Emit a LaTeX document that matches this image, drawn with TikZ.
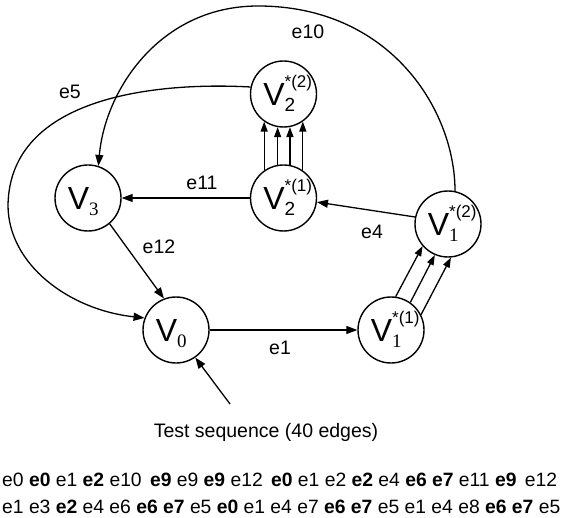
\documentclass[tikz,border=0pt]{standalone}
\usepackage{fontspec}
\setmainfont{Liberation Sans}
\newfontfamily\serifdig{Liberation Serif}
\usetikzlibrary{arrows.meta}
\newcommand\subserif[1]{{\serifdig\fontsize{19}{19}\selectfont #1}}
\newcommand\subsans[1]{{\fontsize{19}{19}\selectfont #1}}
\newcommand\Vnode[2]{{\fontsize{32}{32}\selectfont V}\rlap{\smash{\raisebox{-6.5pt}{#1}}}\rlap{\smash{\raisebox{17.5pt}{\fontsize{17}{17}\selectfont #2}}}\kern19pt}
\newcommand\gap{\hspace{3pt}}
\tikzset{
  st/.style={circle, draw, line width=1.4pt, minimum size=66pt, inner sep=0pt},
  arr/.style={line width=1.3pt, -{Triangle[length=11pt,width=8pt]}},
  parr/.style={line width=1.3pt, -{Triangle[length=10pt,width=7pt]}},
  lbl/.style={font=\fontsize{19.5}{22}\selectfont, inner sep=0pt},
  seq/.style={font=\fontsize{19.3}{22}\selectfont, inner sep=0pt, anchor=base west},
}
\begin{document}
\begin{tikzpicture}[x=1pt,y=-1pt]
\useasboundingbox (0,0) rectangle (564,518);
\node[st] (V22) at (283.5,94) {\Vnode{\subsans{2}}{*(2)}};
\node[st] (V21) at (283.5,198) {\Vnode{\subsans{2}}{*(1)}};
\node[st] (V3) at (88,198) {\Vnode{\subserif{3}}{}};
\node[st] (V0) at (176,330) {\Vnode{\subserif{0}}{}};
\node[st] (V11) at (391,330) {\Vnode{\subserif{1}}{*(1)}};
\node[st] (V12) at (448,224) {\Vnode{\subserif{1}}{*(2)}};
% e10
\coordinate (top10) at (258,6);
\draw[arr] (V12.78) .. controls (455,110) and (390,6) .. (top10)
           .. controls (160,6) and (105,90) .. (V3.72);
% e5
\coordinate (left5) at (8,205);
\draw[arr] (V22.168) .. controls (160,82) and (10,95) .. (left5)
           .. controls (8,265) and (70,310) .. (V0.159);
% V2 parallel arrows
\draw[parr] (V21.125) -- (V22.-125);
\draw[parr] (V21.100.5) -- (V22.-100.5);
\draw[parr] (V21.79.5) -- (V22.-79.5);
\draw[parr] (V21.55) -- (V22.-55);
% V1 parallel arrows
\draw[parr] (V11.82.1) -- (V12.221.3);
\draw[parr] (V11.55.6) -- (V12.247.8);
\draw[parr] (V11.27.6) -- (V12.275.8);
% other edges
\draw[arr] (V12.168) -- (V21.-7);
\draw[arr] (V21) -- (V3);
\draw[arr] (V3.-50) -- (V0.111);
\draw[arr] (V0) -- (V11);
\coordinate (ts) at (230,404);
\draw[arr] (ts) -- (V0.-55);
% labels
\node[lbl] (le10) at (308,32) {e10};
\node[lbl] (le5) at (70,92) {e5};
\node[lbl] (le11) at (202,183) {e11};
\node[lbl] (le4) at (372,232) {e4};
\node[lbl] (le12) at (159,247) {e12};
\node[lbl] (le1) at (280,348) {e1};
\node[lbl] (tst) at (266,432) {Test sequence (40 edges)};
\node[seq] (seq1) at (2,486) {e0 \textbf{e0} e1 \textbf{e2} e10 \gap\textbf{e9} e9 \textbf{e9} e12 \gap\textbf{e0} e1 e2 \textbf{e2} e4 \textbf{e6 e7} e11 \textbf{e9} \gap e12};
\node[seq] (seq2) at (2,513) {e1 e3 \textbf{e2} e4 e6 \textbf{e6 e7} e5 \textbf{e0} e1 e4 e7 \textbf{e6 e7} e5 e1 e4 e8 \textbf{e6 e7} e5};
\end{tikzpicture}
\end{document}
